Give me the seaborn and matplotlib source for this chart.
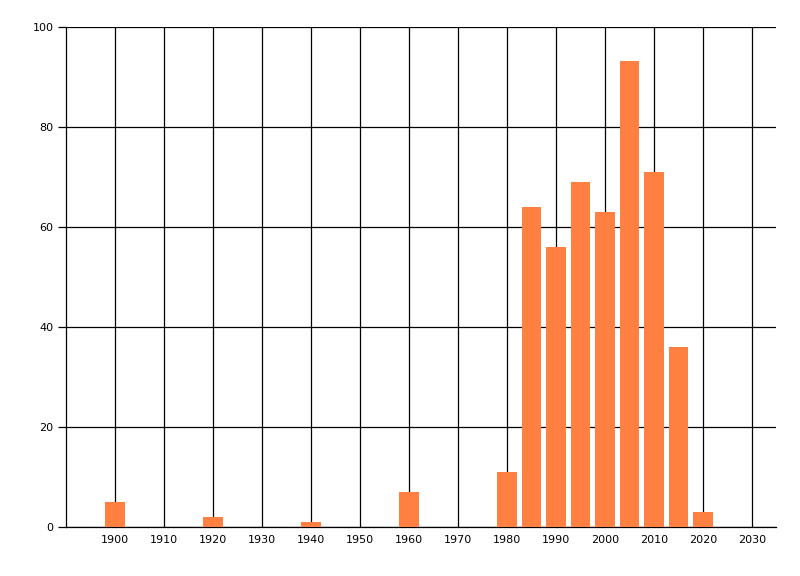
import numpy as np
import pandas as pd
import seaborn as sns
import matplotlib
matplotlib.use('Agg')
import matplotlib.pyplot as plt

# values
years = [1900, 1920, 1940, 1960, 1980, 1985, 1990, 1995, 2000, 2005, 2010, 2015, 2020]
counts = [5, 2, 1, 7, 11, 64, 56, 69, 63, 93.2, 71, 36, 3]
x_ticks = list(range(1900, 2031, 10))
y_ticks = [0, 20, 40, 60, 80, 100]

df = pd.DataFrame({'year': years, 'count': counts})

sns.set_style('white')
plt.rcParams['font.family'] = ['DejaVu Sans']

fig = plt.figure(figsize=(8, 5.76), dpi=100)
ax = fig.add_axes([66 / 800, 1 - 527 / 576, 710 / 800, 500 / 576])

sns.barplot(data=df, x='year', y='count', native_scale=True, width=0.8,
            color='#ff8040', saturation=1, ax=ax, zorder=3,
            edgecolor='none', linewidth=0)

ax.set_xlim(1890, 2034.9)
ax.set_ylim(0, 100)
ax.set_xticks(x_ticks)
ax.set_yticks(y_ticks)
ax.set_xticklabels([str(t) for t in x_ticks])
ax.set_xlabel('')
ax.set_ylabel('')

ax.grid(True, color='black', linewidth=0.9)
ax.set_axisbelow(True)
for side in ['top', 'right']:
    ax.spines[side].set_visible(False)
for side in ['left', 'bottom']:
    ax.spines[side].set_color('black')
    ax.spines[side].set_linewidth(0.9)

ax.tick_params(axis='y', left=True, length=6, width=0.9, color='black',
               labelsize=8, labelcolor='black', pad=3)
ax.tick_params(axis='x', bottom=False, length=0, labelsize=8,
               labelcolor='black', pad=6)

fig.savefig('out.png', dpi=100, facecolor='white')
